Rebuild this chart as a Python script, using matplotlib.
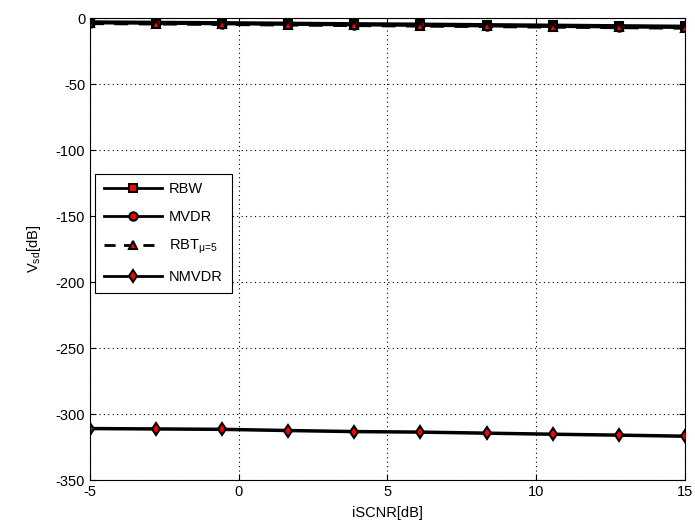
import matplotlib
matplotlib.use('Agg')
import matplotlib.pyplot as plt
import numpy as np

plt.rcParams['font.family'] = ['Liberation Sans', 'DejaVu Sans']
plt.rcParams['mathtext.fontset'] = 'custom'
plt.rcParams['mathtext.rm'] = 'Liberation Sans'
plt.rcParams['mathtext.it'] = 'Liberation Sans'
plt.rcParams['axes.unicode_minus'] = False

# data
iscnr = [-5, -2.78, -0.56, 1.67, 3.89, 6.11, 8.33, 10.56, 12.78, 15]
rbw = [-3.0, -3.3, -3.6, -4.0, -4.4, -4.7, -5.1, -5.5, -5.9, -6.3]
mvdr = [-3.5, -3.8, -4.2, -4.6, -5.0, -5.4, -5.8, -6.2, -6.6, -7.0]
rbt = [-4.0, -4.3, -4.7, -5.1, -5.5, -5.9, -6.3, -6.7, -7.1, -7.5]
nmvdr = [-311.0, -311.3, -311.6, -312.5, -313.3, -313.7, -314.5, -315.3, -316.0, -316.8]

xticks = [-5, 0, 5, 10, 15]
yticks = [0, -50, -100, -150, -200, -250, -300, -350]

fig = plt.figure(figsize=(6.95, 5.31), dpi=100)
ax = fig.add_axes([0.1295, 0.096, 0.856, 0.870])

mk = dict(color='black', linewidth=2.5, markerfacecolor='red',
          markeredgecolor='black', markeredgewidth=1.5, markersize=6)
ax.plot(iscnr, rbw, marker='s', linestyle='-', label='RBW', **mk)
ax.plot(iscnr, mvdr, marker='o', linestyle='-', label='MVDR', **mk)
ax.plot(iscnr, rbt, marker='^', linestyle='--', dashes=(4, 3), label=r'RBT$_{\mu\!=\!5}$', **mk)
ax.plot(iscnr, nmvdr, marker='d', linestyle='-', label='NMVDR', **mk)

ax.set_xlim(-5, 15)
ax.set_ylim(-350, 0)
ax.set_xticks(xticks)
ax.set_yticks(yticks)
ax.grid(True, color='black', linestyle=(0, (1, 3)), linewidth=0.8)
ax.tick_params(direction='in', top=True, right=True, labelsize=10.5, length=4)
for s in ax.spines.values():
    s.set_linewidth(0.8)

ax.set_xlabel('iSCNR[dB]', fontsize=10.5, labelpad=5)
ax.set_ylabel(r'V$_{\mathrm{sd}}$[dB]', fontsize=10.5, labelpad=9)

leg = ax.legend(loc='lower left', bbox_to_anchor=(0.008, 0.405), fontsize=10.5,
                fancybox=False, framealpha=1, edgecolor='black',
                handlelength=4, borderpad=0.6, labelspacing=0.95,
                handletextpad=0.5, borderaxespad=0)
leg.get_frame().set_linewidth(0.8)
for h in leg.get_lines():
    h.set_linewidth(2)

fig.savefig('out.png', dpi=100)
